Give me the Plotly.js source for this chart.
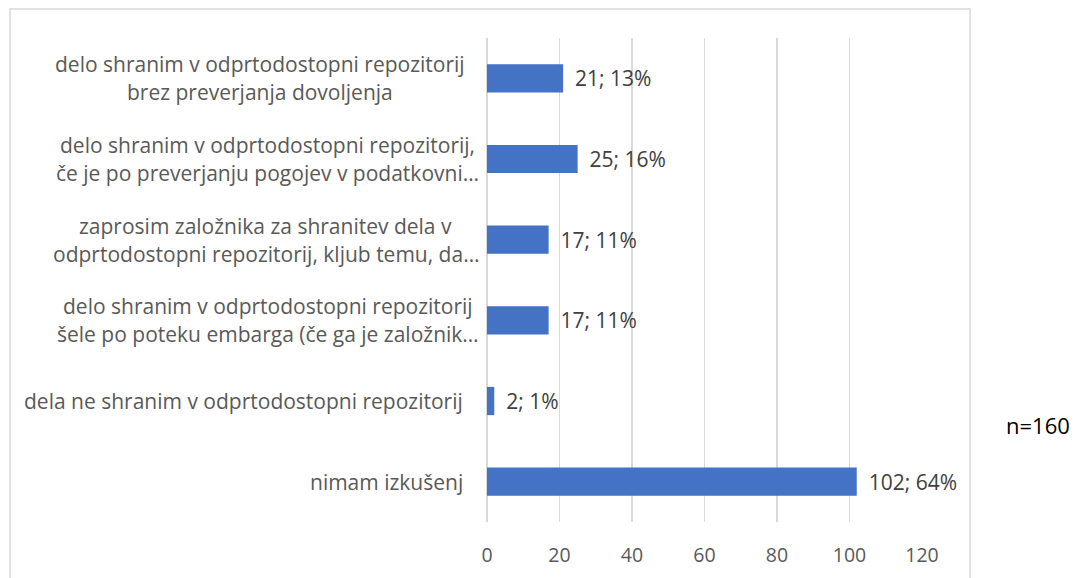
<!DOCTYPE html>
<html><head><meta charset="utf-8">
<script src="https://cdn.plot.ly/plotly-3.0.1.min.js"></script>
<style>html,body{margin:0;padding:0;background:#fff}#c{width:1075px;height:578px}</style>
</head><body><div id="c"></div>
<script>
const categories = [
  "nimam izkušenj",
  "dela ne shranim v odprtodostopni repozitorij",
  "delo shranim v odprtodostopni repozitorij<br>šele po poteku embarga (če ga je založnik…",
  "zaprosim založnika za shranitev dela v<br>odprtodostopni repozitorij, kljub temu, da…",
  "delo shranim v odprtodostopni repozitorij,<br>če je po preverjanju pogojev v podatkovni…",
  "delo shranim v odprtodostopni repozitorij<br>brez preverjanja dovoljenja"
];
const counts = [102, 2, 17, 17, 25, 21];
const percents = ["64%", "1%", "11%", "11%", "16%", "13%"];
const xTicks = [0, 20, 40, 60, 80, 100, 120];
const note = "n=160";

const FONT = "'Open Sans', Lato, sans-serif";
const LAB_SIZE = 21;
const labels = counts.map((v, i) => "\u00a0\u2009" + v + "; " + percents[i]);

const L = 487, R = 922, T = 38, B = 522, W = 1075, H = 578;
const pw = R - L, ph = B - T;
const px = x => (x - L) / pw;
const py = y => (B - y) / ph;

const ctx = document.createElement("canvas").getContext("2d");
ctx.font = LAB_SIZE + "px 'Open Sans'";
const measure = s => ctx.measureText(s).width;

function drawAll() {
  const annotations = [];
  const labFont = {family: FONT, size: LAB_SIZE, color: "#595959"};
  categories.forEach((c, i) => {
    const lines = c.split("<br>");
    if (lines.length === 1) {
      annotations.push({xref: "paper", yref: "y", x: px(465), y: i, xanchor: "right", yanchor: "middle",
        text: c, showarrow: false, font: labFont});
    } else {
      const edge = lines[1].endsWith("…") ? 479 : 465;
      const wmax = Math.max(...lines.map(measure));
      const cx = edge - wmax / 2;
      lines.forEach((t, k) => {
        annotations.push({xref: "paper", yref: "y", x: px(cx), y: i, xanchor: "center", yanchor: "middle",
          yshift: k === 0 ? 14 : -14,
          text: t, showarrow: false, font: labFont});
      });
    }
  });
  annotations.push({xref: "paper", yref: "paper", x: px(1038), y: py(425), xanchor: "center", yanchor: "middle",
    text: note, showarrow: false, font: {family: FONT, size: 22, color: "#000000"}});

  const trace = {
    type: "bar", orientation: "h",
    x: counts, y: categories.map((c, i) => i),
    marker: {color: "#4472C4", line: {width: 0}},
    text: labels, textposition: "outside", cliponaxis: false,
    textfont: {family: FONT, size: LAB_SIZE, color: "#404040"},
    hoverinfo: "none"
  };

  const layout = {
    width: W, height: H,
    margin: {l: L, r: W - R, t: T, b: H - B, pad: 0},
    paper_bgcolor: "#ffffff", plot_bgcolor: "#ffffff",
    showlegend: false,
    bargap: 0.65,
    xaxis: {range: [0, 120], tickvals: xTicks, ticktext: xTicks.map(String),
      showgrid: true, gridcolor: "#d9d9d9", gridwidth: 1.5, zeroline: true, zerolinecolor: "#d9d9d9", zerolinewidth: 1.5,
      showline: false, ticks: "", ticklabelstandoff: 19,
      tickfont: {family: FONT, size: 19.5, color: "#595959"}, fixedrange: true},
    yaxis: {range: [-0.5, 5.5], showticklabels: false, showgrid: false, zeroline: false, showline: false, ticks: "", fixedrange: true},
    annotations: annotations,
    shapes: [{type: "rect", xref: "paper", yref: "paper", layer: "below",
      x0: px(10), x1: px(970), y0: py(600), y1: py(9),
      line: {color: "#d9d9d9", width: 1.5}, fillcolor: "rgba(0,0,0,0)"}]
  };

  Plotly.newPlot("c", [trace], layout, {displayModeBar: false, staticPlot: true});
}
drawAll();
</script></body></html>
